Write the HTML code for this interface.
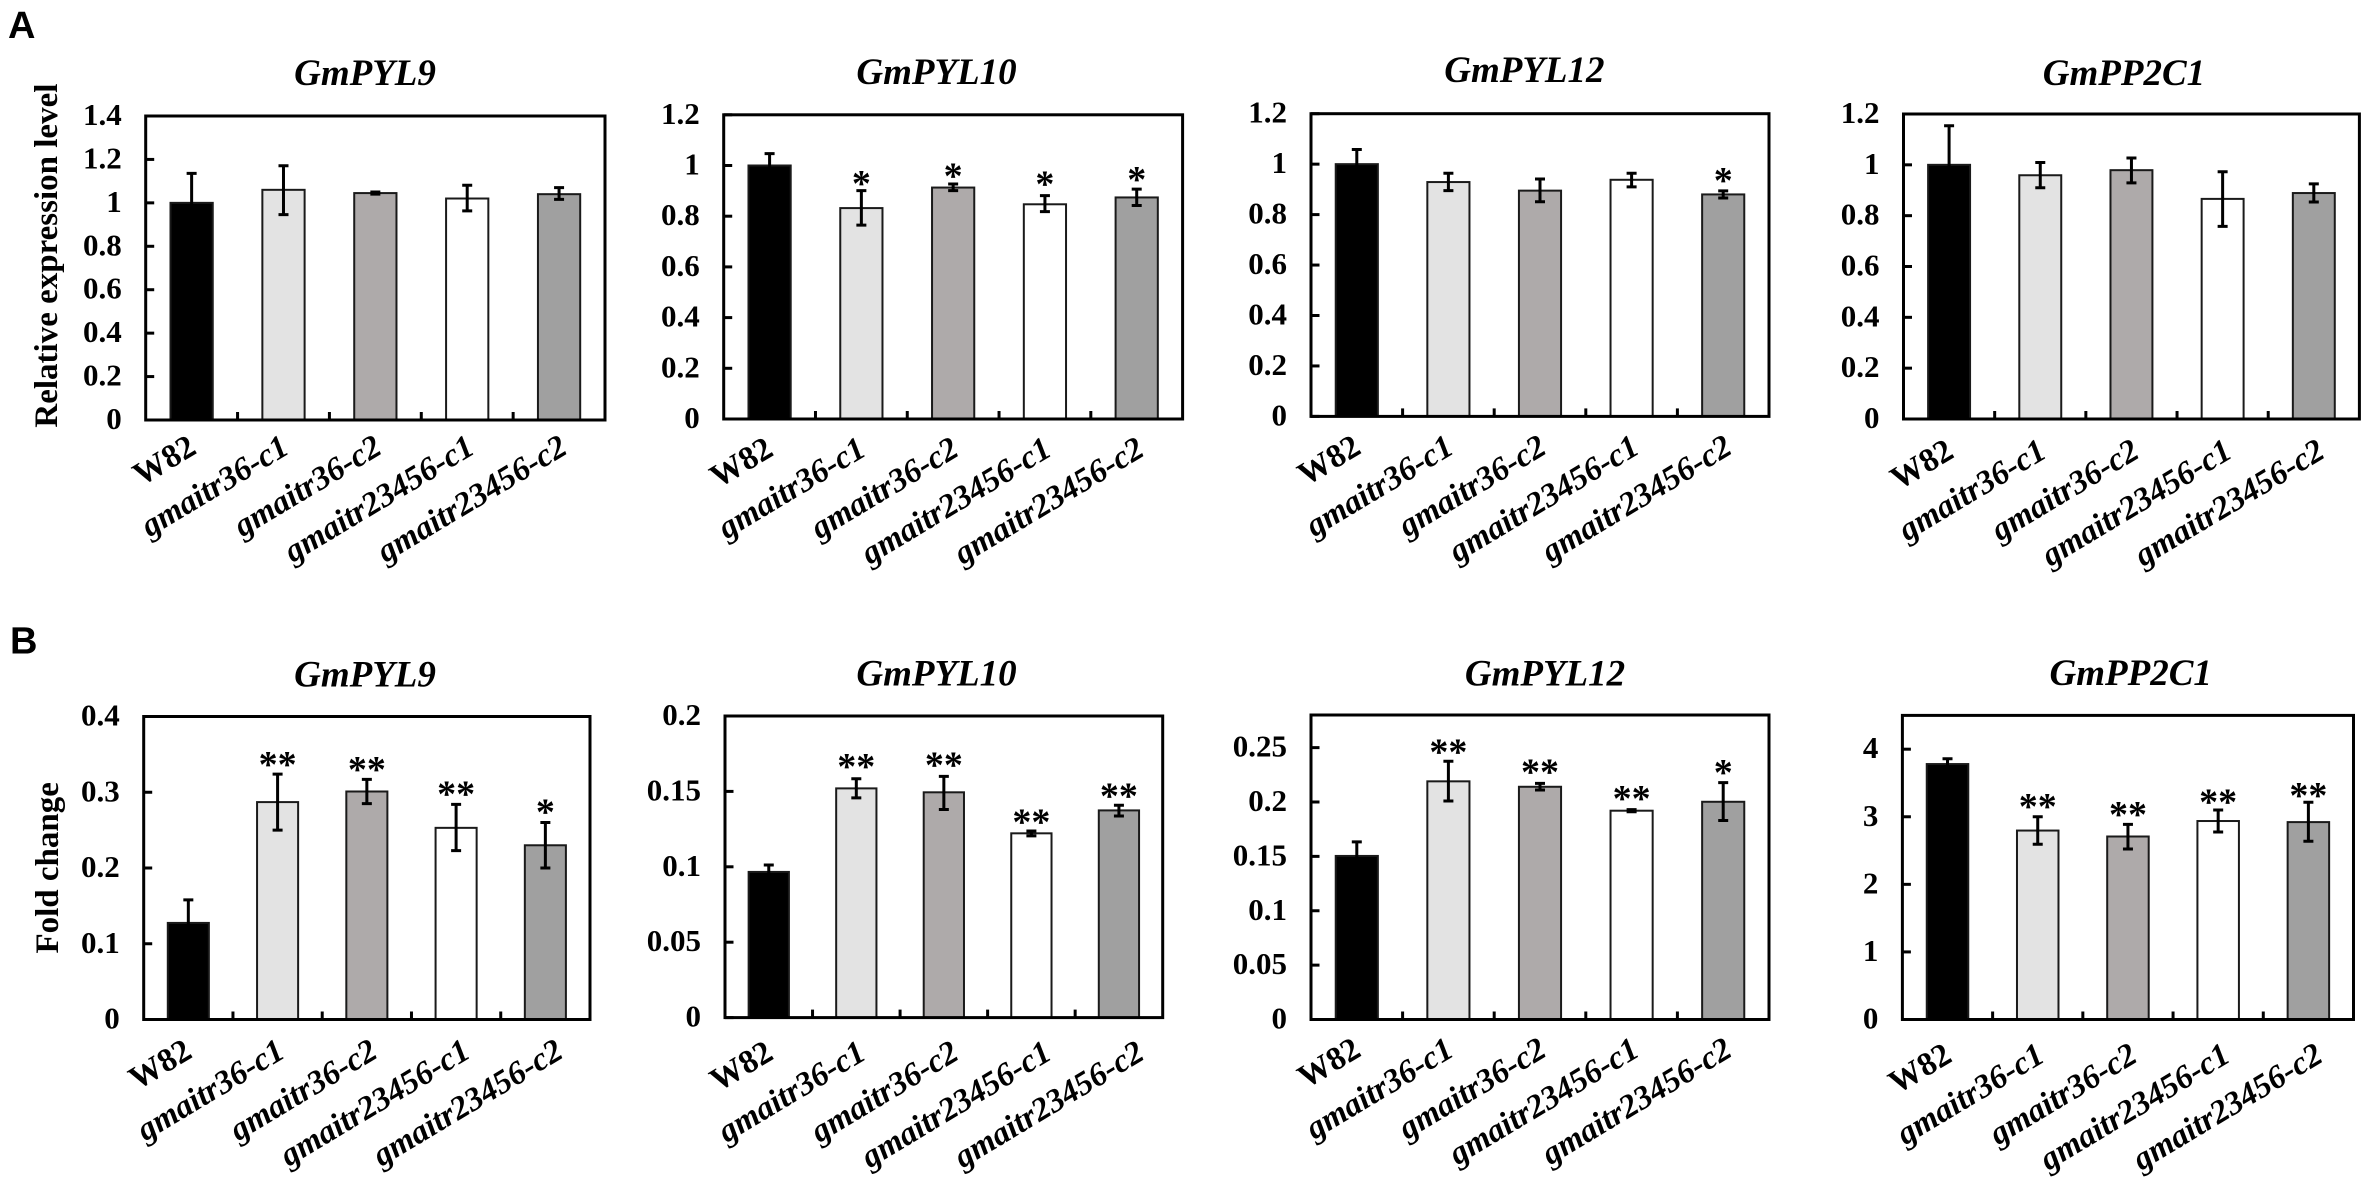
<!DOCTYPE html>
<html lang="en">
<head>
<meta charset="utf-8">
<title>Relative expression and fold change of GmPYL and GmPP2C genes</title>
<style>
  html, body { margin: 0; padding: 0; background: #fff; width: 2365px; height: 1178px; overflow: hidden; }
  svg { display: block; }
  text { font-family: "Liberation Serif", serif; fill: #000; }
</style>
</head>
<body>
<svg id="figure" xmlns="http://www.w3.org/2000/svg" width="2365" height="1178" viewBox="0 0 2365 1178">
  <rect x="0" y="0" width="2365" height="1178" fill="#ffffff"></rect>
  <text x="8" y="38" style="font-family:'Liberation Sans',sans-serif;font-weight:bold;font-size:38px">A</text>
  <text x="10" y="653.5" style="font-family:'Liberation Sans',sans-serif;font-weight:bold;font-size:38px">B</text>
  <text transform="translate(57 255.6) rotate(-90)" text-anchor="middle" style="font-weight:bold;font-size:33px">Relative expression level</text>
  <text transform="translate(58 867.8) rotate(-90)" text-anchor="middle" style="font-weight:bold;font-size:33px">Fold change</text>
</svg>
<script>
// Shared categories and bar fills
const categories = ['W82', 'gmaitr36-c1', 'gmaitr36-c2', 'gmaitr23456-c1', 'gmaitr23456-c2'];
const barFills = ['#000000', '#e3e3e3', '#aeaaaa', '#ffffff', '#a0a0a0'];

// Row A: GmPYL9
const a1Ticks = ['0', '0.2', '0.4', '0.6', '0.8', '1', '1.2', '1.4'];
const a1Values = [1.0, 1.06, 1.045, 1.02, 1.04];
const a1ErrHigh = [1.136, 1.171, 1.05, 1.081, 1.07];
const a1ErrLow = [0.864, 0.946, 1.04, 0.963, 1.016];
const a1Sig = ['', '', '', '', ''];
const a1SigAt = [0, 0, 0, 0, 0];

// Row A: GmPYL10
const a2Ticks = ['0', '0.2', '0.4', '0.6', '0.8', '1', '1.2'];
const a2Values = [1.0, 0.832, 0.913, 0.847, 0.874];
const a2ErrHigh = [1.047, 0.901, 0.927, 0.881, 0.907];
const a2ErrLow = [0.953, 0.765, 0.901, 0.818, 0.842];
const a2Sig = ['', '*', '*', '*', '*'];
const a2SigAt = [0, 0.951, 0.981, 0.948, 0.966];

// Row A: GmPYL12
const a3Ticks = ['0', '0.2', '0.4', '0.6', '0.8', '1', '1.2'];
const a3Values = [1.0, 0.929, 0.895, 0.938, 0.88];
const a3ErrHigh = [1.058, 0.964, 0.941, 0.964, 0.894];
const a3ErrLow = [0.942, 0.895, 0.851, 0.91, 0.866];
const a3Sig = ['', '', '', '', '*'];
const a3SigAt = [0, 0, 0, 0, 0.956];

// Row A: GmPP2C1
const a4Ticks = ['0', '0.2', '0.4', '0.6', '0.8', '1', '1.2'];
const a4Values = [1.0, 0.959, 0.979, 0.866, 0.889];
const a4ErrHigh = [1.154, 1.009, 1.027, 0.973, 0.925];
const a4ErrLow = [0.846, 0.91, 0.929, 0.758, 0.854];
const a4Sig = ['', '', '', '', ''];
const a4SigAt = [0, 0, 0, 0, 0];

// Row B: GmPYL9
const b1Ticks = ['0', '0.1', '0.2', '0.3', '0.4'];
const b1Values = [0.1275, 0.287, 0.301, 0.253, 0.23];
const b1ErrHigh = [0.158, 0.324, 0.317, 0.284, 0.26];
const b1ErrLow = [0.097, 0.25, 0.285, 0.223, 0.2];
const b1Sig = ['', '**', '**', '**', '*'];
const b1SigAt = [0, 0.3436, 0.337, 0.305, 0.281];

// Row B: GmPYL10
const b2Ticks = ['0', '0.05', '0.1', '0.15', '0.2'];
const b2Values = [0.0966, 0.152, 0.1494, 0.1222, 0.1374];
const b2ErrHigh = [0.1012, 0.1584, 0.16, 0.1237, 0.1408];
const b2ErrLow = [0.092, 0.1457, 0.138, 0.1205, 0.1337];
const b2Sig = ['', '**', '**', '**', '**'];
const b2SigAt = [0, 0.17, 0.171, 0.1335, 0.1506];

// Row B: GmPYL12
const b3Ticks = ['0', '0.05', '0.1', '0.15', '0.2', '0.25'];
const b3Values = [0.1504, 0.219, 0.214, 0.192, 0.2002];
const b3ErrHigh = [0.1633, 0.2375, 0.2171, 0.193, 0.2178];
const b3ErrLow = [0.1375, 0.2009, 0.211, 0.191, 0.183];
const b3Sig = ['', '**', '**', '**', '*'];
const b3SigAt = [0, 0.251, 0.2327, 0.2083, 0.232];

// Row B: GmPP2C1
const b4Ticks = ['0', '1', '2', '3', '4'];
const b4Values = [3.78, 2.796, 2.708, 2.937, 2.921];
const b4ErrHigh = [3.858, 3.0, 2.888, 3.1, 3.215];
const b4ErrLow = [3.7, 2.594, 2.523, 2.774, 2.638];
const b4Sig = ['', '**', '**', '**', '**'];
const b4SigAt = [0, 3.232, 3.117, 3.302, 3.395];

// Axis maxima and gene titles
const axisMaxima = [1.4, 1.2, 1.2, 1.2, 0.4, 0.2, 0.28, 4.5];
const geneTitles = ['GmPYL9', 'GmPYL10', 'GmPYL12', 'GmPP2C1', 'GmPYL9', 'GmPYL10', 'GmPYL12', 'GmPP2C1'];

// Series bound to each panel
const panelData = [
  { key: 'a1', ticks: a1Ticks, values: a1Values, hi: a1ErrHigh, lo: a1ErrLow, sig: a1Sig, sigAt: a1SigAt },
  { key: 'a2', ticks: a2Ticks, values: a2Values, hi: a2ErrHigh, lo: a2ErrLow, sig: a2Sig, sigAt: a2SigAt },
  { key: 'a3', ticks: a3Ticks, values: a3Values, hi: a3ErrHigh, lo: a3ErrLow, sig: a3Sig, sigAt: a3SigAt },
  { key: 'a4', ticks: a4Ticks, values: a4Values, hi: a4ErrHigh, lo: a4ErrLow, sig: a4Sig, sigAt: a4SigAt },
  { key: 'b1', ticks: b1Ticks, values: b1Values, hi: b1ErrHigh, lo: b1ErrLow, sig: b1Sig, sigAt: b1SigAt },
  { key: 'b2', ticks: b2Ticks, values: b2Values, hi: b2ErrHigh, lo: b2ErrLow, sig: b2Sig, sigAt: b2SigAt },
  { key: 'b3', ticks: b3Ticks, values: b3Values, hi: b3ErrHigh, lo: b3ErrLow, sig: b3Sig, sigAt: b3SigAt },
  { key: 'b4', ticks: b4Ticks, values: b4Values, hi: b4ErrHigh, lo: b4ErrLow, sig: b4Sig, sigAt: b4SigAt }
];

// Page layout of each plot frame:
// left, right, top, bottom, title centre, title baseline, first x-label end, x-label drop
const frames = [
  [145.7, 605, 116, 420, 365, 85, 198, 32.5],
  [723.7, 1182.6, 114.8, 419, 936.5, 84, 775, 35.5],
  [1311, 1769, 113.7, 416.4, 1524.4, 82, 1362.7, 36],
  [1903.5, 2359.4, 114, 419, 2124, 85, 1955.5, 37.5],
  [143.7, 590, 716.5, 1019.5, 365, 686.6, 193.8, 37],
  [725, 1162.7, 716, 1017.6, 936.5, 685.5, 775, 40.5],
  [1311, 1769, 715, 1019.5, 1545, 685.5, 1362.7, 35.5],
  [1902.4, 2353.5, 715.4, 1019.5, 2130.7, 685, 1953.6, 41]
];
const labelStep = 92.8;

const SVG_NS = 'http://www.w3.org/2000/svg';
const figure = document.getElementById('figure');

function make(parent, tag, attrs, content) {
  const node = document.createElementNS(SVG_NS, tag);
  for (const k in attrs) node.setAttribute(k, attrs[k]);
  if (content !== undefined) node.textContent = content;
  parent.appendChild(node);
  return node;
}

function drawPanel(data, frame, axisMax, title) {
  const [left, right, top, bottom, titleX, titleY, labelX, labelDrop] = frame;
  const yScale = v => bottom - (v / axisMax) * (bottom - top);
  const band = (right - left) / categories.length;
  const xCenter = i => left + band * (i + 0.5);
  const barWidth = band * 0.46;

  const panel = make(figure, 'g', {});
  
  

  const titleEl = make(panel, 'text', { x: titleX, y: titleY, 'text-anchor': 'middle', style: 'font-weight:bold;font-style:italic;font-size:37px' }, title);
  
  

  data.values.forEach((value, i) => {
    const bar = make(panel, 'rect', {
      x: xCenter(i) - barWidth / 2,
      y: yScale(value),
      width: barWidth,
      height: bottom - yScale(value),
      fill: barFills[i],
      stroke: '#1a1a1a',
      'stroke-width': 2
    });
    
    

    const err = make(panel, 'path', {
      d: 'M' + xCenter(i) + ' ' + yScale(data.hi[i]) + 'V' + yScale(data.lo[i]) +
         'M' + (xCenter(i) - 5) + ' ' + yScale(data.hi[i]) + 'h10' +
         'M' + (xCenter(i) - 5) + ' ' + yScale(data.lo[i]) + 'h10',
      fill: 'none',
      stroke: '#000000',
      'stroke-width': 3
    });
    
    

    if (data.sig[i]) {
      const star = make(panel, 'text', {
        x: xCenter(i),
        y: yScale(data.sigAt[i]) + 18,
        'text-anchor': 'middle',
        style: 'font-weight:bold;font-size:38px'
      }, data.sig[i]);
      
      
    }

    const label = make(panel, 'text', {
      transform: 'translate(' + (labelX + labelStep * i) + ' ' + (bottom + labelDrop) + ') rotate(-31)',
      'text-anchor': 'end',
      style: 'font-weight:bold;font-size:33px;' + (i === 0 ? '' : 'font-style:italic')
    }, categories[i]);
    
    
  });

  const box = make(panel, 'rect', {
    x: left, y: top, width: right - left, height: bottom - top,
    fill: 'none', stroke: '#000000', 'stroke-width': 3
  });
  
  

  for (let i = 1; i < categories.length; i++) {
    const xTick = make(panel, 'line', {
      x1: left + band * i, x2: left + band * i, y1: bottom, y2: bottom - 8,
      stroke: '#000000', 'stroke-width': 3
    });
    
    
  }

  data.ticks.forEach(tickLabel => {
    const y = yScale(parseFloat(tickLabel));
    const yTick = make(panel, 'line', {
      x1: left, x2: left + 8.5, y1: y, y2: y,
      stroke: '#000000', 'stroke-width': 3
    });
    
    

    const yLabel = make(panel, 'text', {
      x: left - 24, y: y + 9, 'text-anchor': 'end',
      style: 'font-weight:bold;font-size:31px'
    }, tickLabel);
    
    
  });
}

panelData.forEach((data, i) => drawPanel(data, frames[i], axisMaxima[i], geneTitles[i]));
</script>
</body>
</html>
